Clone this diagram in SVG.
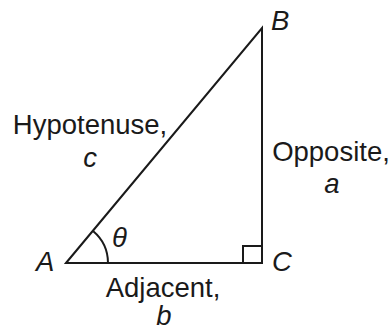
<svg xmlns="http://www.w3.org/2000/svg" width="392" height="331" viewBox="0 0 392 331">
<style>
.ln{fill:none;stroke:#1a1a1a;stroke-width:2;stroke-linejoin:miter}
.t{font-family:"Liberation Sans",Arial,sans-serif;font-size:27.5px;fill:#1a1a1a}
.i{font-style:italic}
</style>
<rect width="392" height="331" fill="#fff"/>
<g id="connectors">
<path class="ln" d="M66,263 L262,28 L262,263 Z"/>
<path class="ln" d="M243,263 L243,246 L262,246"/>
<path class="ln" d="M93,231 A42,42 0 0 1 108,263"/>
</g>
<g id="vertex-A"><text class="t i" x="36" y="271">A</text></g>
<g id="vertex-B"><text class="t i" x="271" y="30">B</text></g>
<g id="vertex-C"><text class="t i" x="272" y="271">C</text></g>
<g id="angle-theta"><text class="t i" x="112" y="247">θ</text></g>
<g id="hypotenuse-label">
<text class="t" x="90" y="134" text-anchor="middle">Hypotenuse,</text>
<text class="t i" x="90" y="167" text-anchor="middle">c</text>
</g>
<g id="opposite-label">
<text class="t" x="331" y="161" text-anchor="middle">Opposite,</text>
<text class="t i" x="332" y="193" text-anchor="middle">a</text>
</g>
<g id="adjacent-label">
<text class="t" x="163" y="297" text-anchor="middle">Adjacent,</text>
<text class="t i" x="164" y="325" text-anchor="middle">b</text>
</g>
</svg>
